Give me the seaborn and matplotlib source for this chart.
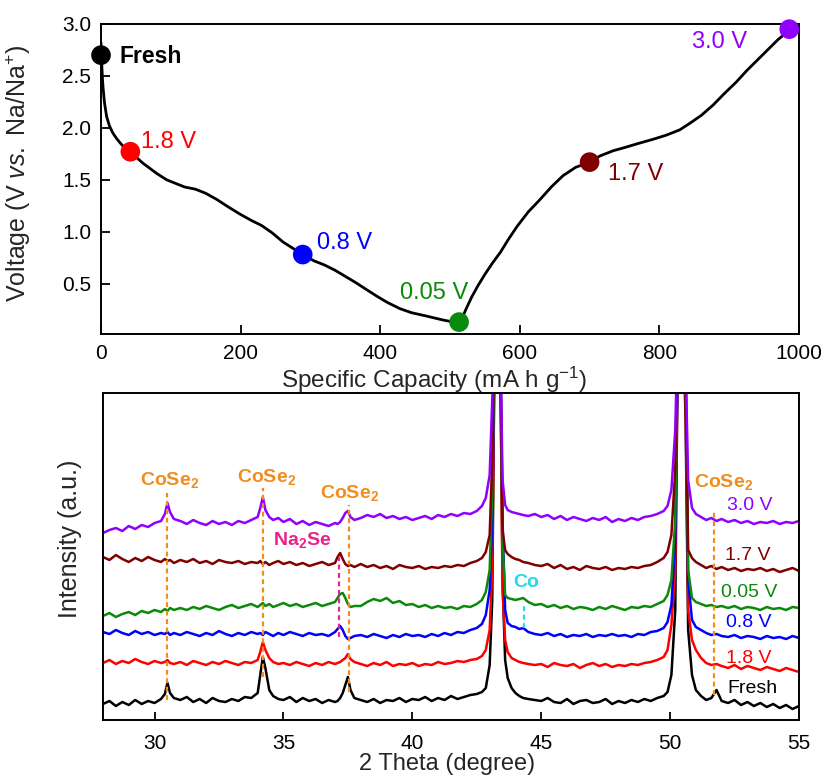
import numpy as np
import pandas as pd
import matplotlib
matplotlib.use("Agg")
import matplotlib.pyplot as plt
import seaborn as sns

# ---------------- data: charge/discharge curve ----------------
capacity = [0, 1, 2, 3, 5, 8, 12, 17, 22, 28, 35, 42, 50, 60, 70, 80, 94, 105, 120,
            135, 150, 166, 182, 199, 215, 230, 245, 261, 275, 289, 305, 320, 335, 350,
            365, 381, 395, 410, 428, 445, 465, 490, 513,
            518, 524, 531, 540, 550, 561, 572, 584, 596, 612, 629, 645, 662, 680, 700,
            715, 734, 750, 770, 791, 810, 829, 845, 860, 877, 893, 910, 925, 940, 955,
            970, 986]
voltage = [2.82, 2.62, 2.48, 2.38, 2.24, 2.11, 2.02, 1.95, 1.90, 1.85, 1.80, 1.76,
           1.72, 1.66, 1.61, 1.56, 1.50, 1.47, 1.43, 1.41, 1.37, 1.31, 1.24, 1.17,
           1.11, 1.06, 0.99, 0.90, 0.84, 0.78, 0.72, 0.68, 0.63, 0.57, 0.51, 0.44,
           0.38, 0.32, 0.26, 0.22, 0.19, 0.15, 0.12,
           0.18, 0.27, 0.37, 0.48, 0.59, 0.70, 0.80, 0.93, 1.05, 1.19, 1.31, 1.43,
           1.54, 1.62, 1.67, 1.73, 1.78, 1.81, 1.85, 1.89, 1.93, 1.98, 2.05, 2.12,
           2.22, 2.33, 2.44, 2.55, 2.65, 2.75, 2.85, 2.94]

states = ["Fresh", "1.8 V", "0.8 V", "0.05 V", "1.7 V", "3.0 V"]
state_cap = [0, 42, 289, 513, 700, 986]
state_volt = [2.70, 1.77, 0.78, 0.13, 1.67, 2.95]
state_colors = ["#000000", "#ff0000", "#0000ff", "#0a8a0a", "#800000", "#8f00ff"]

# label positions (data units) for the top panel
lab_x = [27, 57, 309, 428, 726, 925]
lab_y = [2.69, 1.86, 0.89, 0.41, 1.56, 2.83]

# ---------------- data: XRD patterns ----------------
theta = [28.0, 28.25, 28.5, 28.75, 29.0, 29.25, 29.5, 29.75, 30.0, 30.25,
         30.4, 30.5, 30.6, 30.75,
         31.0, 31.25, 31.5, 31.75, 32.0, 32.25, 32.5, 32.75, 33.0, 33.25, 33.5, 33.75, 34.0,
         34.1, 34.2, 34.3, 34.45, 34.6, 34.8,
         35.0, 35.25, 35.5, 35.75, 36.0, 36.25, 36.5, 36.75, 37.0,
         37.1, 37.2, 37.3, 37.4, 37.5, 37.6, 37.75,
         38.0, 38.25, 38.5, 38.75, 39.0, 39.25, 39.5, 39.75, 40.0, 40.25, 40.5, 40.75, 41.0,
         41.25, 41.5, 41.75, 42.0, 42.25, 42.5,
         42.7, 42.85, 43.0, 43.1, 43.2, 43.3, 43.4, 43.5, 43.6, 43.7, 43.85, 44.0, 44.15,
         44.3, 44.5, 44.75,
         45.0, 45.25, 45.5, 45.75, 46.0, 46.25, 46.5, 46.75, 47.0, 47.25, 47.5, 47.75, 48.0,
         48.25, 48.5, 48.75, 49.0, 49.25, 49.5, 49.75,
         49.9, 50.05, 50.2, 50.3, 50.4, 50.5, 50.6, 50.7, 50.85, 51.0, 51.2, 51.4, 51.6,
         51.8, 52.0,
         52.25, 52.5, 52.75, 53.0, 53.25, 53.5, 53.75, 54.0, 54.25, 54.5, 54.75, 55.0]

xrd_fresh = [16, 19, 14, 18, 15, 20, 16, 19, 17, 21,
             26, 37, 27, 22,
             20, 23, 18, 21, 17, 22, 19, 18, 21, 19, 23, 22, 27,
             45, 63, 52, 30, 24, 21,
             20, 23, 18, 22, 19, 21, 17, 20, 18,
             19, 22, 27, 35, 43, 30, 22,
             20, 18, 21, 17, 20, 19, 22, 18, 21, 20, 23, 19, 22, 20, 24, 21, 23, 25, 26,
             28, 32, 55, 120, 400, 420, 400, 140, 60, 42, 32, 27, 24, 22, 21, 20,
             19, 22, 18, 17, 21, 16, 19, 20, 17, 18, 21, 16, 19, 17, 20, 18, 21, 19, 22, 24,
             28, 45, 110, 380, 420, 400, 300, 90, 45, 30, 24, 20, 22, 30, 19,
             17, 20, 15, 18, 14, 17, 13, 16, 12, 15, 11, 14]
xrd_18 = [57, 60, 56, 59, 57, 61, 58, 56, 59, 57,
          58, 60, 57, 56,
          58, 55, 59, 57, 55, 58, 56, 59, 57, 55, 58, 57, 60,
          68, 78, 70, 62, 58, 56,
          57, 55, 58, 56, 54, 57, 55, 58, 56,
          57, 58, 60, 62, 66, 61, 58,
          56, 54, 57, 55, 58, 54, 56, 55, 57, 54, 56, 55, 58, 56, 57, 59, 58, 60, 61,
          64, 70, 90, 150, 400, 420, 390, 130, 80, 68, 62, 60, 58, 57, 56, 55,
          56, 53, 57, 55, 54, 56, 52, 55, 57, 54, 56, 53, 55, 54, 56, 55, 57, 58, 60, 63,
          70, 95, 150, 380, 420, 410, 320, 110, 80, 70, 62, 57, 55, 56, 54,
          52, 55, 51, 54, 52, 50, 53, 51, 49, 52, 50, 48]
xrd_08 = [88, 86, 90, 87, 85, 89, 86, 88, 85, 87,
          86, 88, 85, 87,
          85, 88, 86, 84, 87, 85, 89, 86, 84, 87, 85, 88, 86,
          87, 85, 88, 86, 84, 87,
          85, 88, 86, 84, 87, 85, 86, 84, 88,
          91, 94, 90, 84, 81, 82, 84,
          85, 83, 86, 84, 82, 85, 83, 86, 84, 85, 83, 86, 84, 87, 85, 88, 87, 90, 92,
          96, 105, 130, 200, 400, 430, 400, 200, 110, 97, 94, 93, 91, 92, 88, 86,
          85, 87, 84, 86, 83, 85, 84, 86, 83, 85, 84, 86, 84, 85, 83, 86, 85, 88, 89, 92,
          98, 115, 180, 380, 420, 420, 360, 140, 100, 93, 90, 87, 85, 86, 84,
          83, 85, 82, 84, 83, 81, 84, 82, 83, 81, 84, 82]
xrd_005 = [104, 107, 103, 106, 108, 105, 109, 107, 110, 108,
           111, 109, 112, 110,
           112, 110, 113, 111, 114, 112, 110, 113, 115, 112, 114, 116, 113,
           115, 117, 114, 116, 113, 115,
           117, 114, 116, 113, 115, 117, 114, 116, 118,
           122, 126, 127, 122, 116, 113, 114,
           114, 118, 121, 119, 122, 117, 119, 115, 116, 113, 115, 112, 114, 112, 113, 111, 114, 113, 116,
           120, 128, 150, 230, 400, 430, 400, 180, 125, 122, 121, 120, 121, 122, 118, 115,
           116, 113, 115, 112, 114, 111, 113, 112, 110, 113, 111, 114, 112, 110, 113, 112, 114, 113, 116, 119,
           125, 140, 200, 390, 420, 420, 350, 150, 122, 118, 116, 114, 115, 113, 114,
           112, 114, 111, 113, 112, 110, 113, 111, 112, 110, 113, 112]
xrd_17 = [163, 160, 165, 161, 158, 162, 159, 163, 160, 158,
          161, 159, 160, 157,
          160, 158, 161, 157, 159, 156, 160, 158, 157, 159, 156, 158, 157,
          159, 156, 158, 155, 157, 159,
          156, 158, 155, 157, 154, 156, 158, 155, 157,
          163, 167, 161, 156, 154, 155, 153,
          156, 153, 155, 152, 154, 151, 155, 153, 152, 154, 151, 153, 152, 154, 153, 155, 154, 157, 159,
          162, 168, 185, 260, 400, 430, 400, 190, 170, 166, 163, 161, 160, 158, 157, 155,
          154, 156, 152, 155, 151, 153, 150, 154, 152, 151, 153, 150, 152, 151, 153, 152, 154, 155, 158, 162,
          168, 185, 250, 400, 420, 420, 340, 170, 162, 158, 155, 152, 154, 151, 153,
          150, 152, 149, 151, 150, 152, 149, 151, 148, 150, 152, 149]
xrd_30 = [187, 190, 192, 189, 194, 191, 195, 193, 197, 199,
          206, 217, 208, 201,
          199, 196, 200, 197, 195, 199, 196, 198, 195, 199, 197, 200, 203,
          212, 223, 210, 203, 200, 202,
          198, 201, 196, 199, 195, 198, 196, 194, 197,
          196, 198, 202, 207, 209, 203, 200,
          202, 205, 203, 206, 202, 204, 201, 203, 200, 202, 204, 201, 205, 203, 206, 204, 207, 206, 209,
          214, 222, 245, 320, 400, 430, 400, 240, 215, 210, 208, 207, 206, 205, 204, 206,
          203, 205, 201, 204, 200, 203, 201, 199, 202, 200, 203, 198, 201, 199, 202, 200, 203, 204, 206, 209,
          214, 230, 290, 400, 430, 420, 360, 240, 212, 206, 203, 200, 202, 199, 201,
          198, 200, 197, 199, 196, 198, 197, 199, 196, 198, 197, 199]

xrd_series = [xrd_fresh, xrd_18, xrd_08, xrd_005, xrd_17, xrd_30]
xrd_lab_x = [53.2, 53.05, 53.05, 53.05, 53.0, 53.1]
xrd_lab_y = [32, 62, 98, 128, 165, 215]

# reference-phase marks
cose2_pos = [30.5, 34.22, 37.55, 51.72]
cose2_top = [227, 232, 215, 208]
cose2_bot = [20, 43, 28, 25]
cose2_lab_x = [30.58, 34.34, 37.56, 52.08]
cose2_lab_y = [240, 243, 227, 238]
na2se_pos, na2se_top, na2se_bot = [37.17], [163], [83]
co_pos, co_top, co_bot = [44.35], [117], [92]

# ---------------- style ----------------
sns.set_theme(style="ticks")
plt.rcParams["font.family"] = ["Liberation Sans", "DejaVu Sans"]
plt.rcParams["mathtext.fontset"] = "custom"
plt.rcParams["mathtext.rm"] = "Liberation Sans"
plt.rcParams["mathtext.it"] = "Liberation Sans:italic"
plt.rcParams["mathtext.bf"] = "Liberation Sans:bold"
plt.rcParams["axes.linewidth"] = 1.4
plt.rcParams["axes.edgecolor"] = "black"

fig = plt.figure(figsize=(8.26, 7.81), dpi=100)
ax1 = fig.add_axes([0.1223, 0.5723, 0.845, 0.397])
ax2 = fig.add_axes([0.1247, 0.0781, 0.8426, 0.4187])

# ---------------- top panel ----------------
curve = pd.DataFrame({"cap": capacity, "volt": voltage})
sns.lineplot(data=curve, x="cap", y="volt", ax=ax1, color="black", lw=2.0,
             sort=False, estimator=None)
pts = pd.DataFrame({"cap": state_cap, "volt": state_volt, "state": states})
sns.scatterplot(data=pts, x="cap", y="volt", hue="state", palette=dict(zip(states, state_colors)),
                s=200, edgecolor="none", legend=False, ax=ax1, zorder=4, clip_on=False)
for st, x, y, c in zip(states, lab_x, lab_y, state_colors):
    ax1.text(x, y, st, color=c, fontsize=16.5 if st == "Fresh" else 17,
             fontweight="bold" if st == "Fresh" else "normal", va="center",
             ha="right" if st == "3.0 V" else "left")

ax1.set_xlim(0, 1000)
ax1.set_ylim(0.015, 3.0)
ax1.set_xticks([0, 200, 400, 600, 800, 1000])
ax1.set_yticks([0.5, 1.0, 1.5, 2.0, 2.5, 3.0])
ax1.set_yticklabels(["0.5", "1.0", "1.5", "2.0", "2.5", "3.0"])
ax1.tick_params(direction="in", length=6.5, width=1.3, labelsize=15, pad=7,
                top=False, right=False, colors="black")
ax1.set_xlabel("Specific Capacity (mA h g$^{-1}$)", fontsize=17.5, va="top")
ax1.xaxis.set_label_coords(0.478, -0.1)
ax1.set_ylabel("Voltage (V $\\mathit{vs.}$ Na/Na$^{+}$)", fontsize=18)
ax1.yaxis.set_label_coords(-0.097, 0.52)

# ---------------- bottom panel ----------------
rows = []
for st, ys in zip(states, xrd_series):
    rows.append(pd.DataFrame({"theta": theta, "I": ys, "state": st}))
xrd = pd.concat(rows, ignore_index=True)
sns.lineplot(data=xrd, x="theta", y="I", hue="state", hue_order=states,
             palette=dict(zip(states, state_colors)), lw=1.8, estimator=None,
             sort=False, legend=False, ax=ax2)

dash = dict(ls=(0, (2.2, 1.6)), lw=1.6)
ax2.vlines(cose2_pos, cose2_bot, cose2_top, color="#f28c1c", zorder=5, **dash)
ax2.vlines(na2se_pos, na2se_bot, na2se_top, color="#e8238a", zorder=5, **dash)
ax2.vlines(co_pos, co_bot, co_top, color="#27d7ee", zorder=5, **dash)

for x, y in zip(cose2_lab_x, cose2_lab_y):
    ax2.text(x, y, "CoSe$_{\\mathbf{2}}$", color="#f28c1c", fontsize=14,
             fontweight="bold", ha="center", va="center")
ax2.text(35.74, 180, "Na$_{\\mathbf{2}}$Se", color="#e8238a", fontsize=14,
         fontweight="bold", ha="center", va="center")
ax2.text(44.42, 138, "Co", color="#27d7ee", fontsize=14, fontweight="bold",
         ha="center", va="center")
for st, x, y, c in zip(states, xrd_lab_x, xrd_lab_y, state_colors):
    ax2.text(x, y, st, color=c, fontsize=14, ha="center", va="center", zorder=6)

ax2.set_xlim(28, 55)
ax2.set_ylim(0, 327)
ax2.set_xticks([30, 35, 40, 45, 50, 55])
ax2.set_yticks([])
ax2.tick_params(axis="x", direction="in", length=6, width=1.3, labelsize=15, pad=10,
                top=False, colors="black")
ax2.set_xlabel("2 Theta (degree)", fontsize=17, va="top")
ax2.xaxis.set_label_coords(0.495, -0.10)
ax2.set_ylabel("Intensity (a.u.)", fontsize=18)
ax2.yaxis.set_label_coords(-0.030, 0.553)

for ax in (ax1, ax2):
    for sp in ax.spines.values():
        sp.set_visible(True)
        sp.set_color("black")
        sp.set_linewidth(1.4)

fig.savefig("out.png", dpi=100, facecolor="white")
